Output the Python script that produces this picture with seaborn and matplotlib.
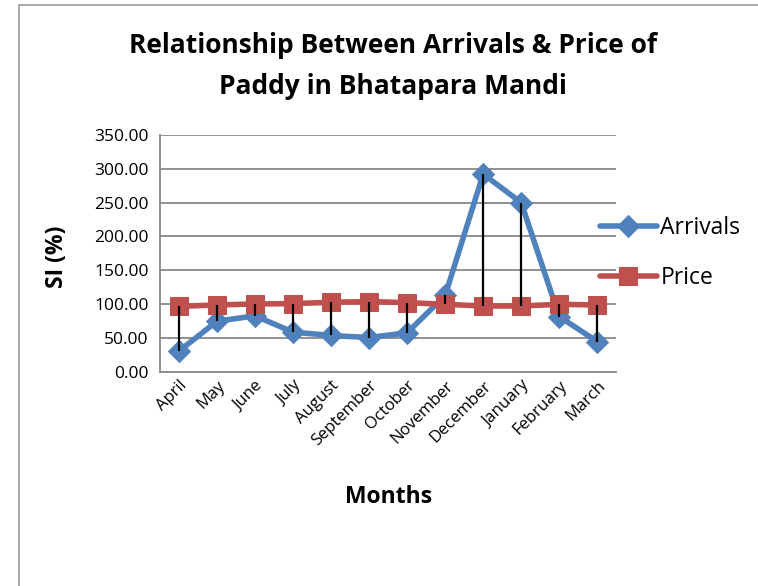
import numpy as np
import pandas as pd
import matplotlib
matplotlib.use("Agg")
import matplotlib.pyplot as plt
from matplotlib.patches import Rectangle
import seaborn as sns

# ==========================================================
# Data (seasonal index, %)
# ==========================================================

months = ["April", "May", "June", "July", "August", "September",
          "October", "November", "December", "January", "February", "March"]
arrivals = [31, 75, 83, 59, 54, 51, 58, 113, 292, 250, 82, 45]
price = [97, 99, 100.5, 101, 103, 104, 102.5, 100, 97.5, 97.5, 100, 99]

df = pd.DataFrame({"Month": months, "Arrivals": arrivals, "Price": price})
df["pos"] = np.arange(len(months))

# ==========================================================
# Style
# ==========================================================

sns.set_style("white")
plt.rcParams["font.family"] = ["Open Sans", "DejaVu Sans"]
plt.rcParams["text.color"] = "black"
plt.rcParams["xtick.color"] = "black"
plt.rcParams["ytick.color"] = "black"

blue = "#4F81BD"
red = "#C0504D"
grid_col = "#888888"

fig = plt.figure(figsize=(7.58, 5.86), dpi=100)
ax = fig.add_axes([0.211, 0.365, 0.602, 0.405])

# outer chart border
fig.patches.append(Rectangle((0.025, -0.02), 1.0, 1.0115, transform=fig.transFigure,
                             fill=False, edgecolor="#999999", linewidth=1.2))

# high-low lines
ax.vlines(df["pos"], df[["Arrivals", "Price"]].min(axis=1),
          df[["Arrivals", "Price"]].max(axis=1), color="black", linewidth=1.6, zorder=4)

sns.lineplot(data=df, x="pos", y="Arrivals", ax=ax, color=blue, linewidth=4,
             marker="D", markersize=11, markeredgecolor=blue, label="Arrivals", zorder=3)
sns.lineplot(data=df, x="pos", y="Price", ax=ax, color=red, linewidth=4,
             marker="s", markersize=13, markeredgecolor=red, label="Price", zorder=3)

ax.set_xlim(-0.5, 11.5)
ax.set_ylim(0, 350)
ax.set_yticks(np.arange(0, 351, 50))
ax.set_yticklabels(["{:.2f}".format(v) for v in np.arange(0, 351, 50)], fontsize=12.5)
ax.set_xticks(df["pos"])
ax.set_xticklabels(months, rotation=45, ha="right", rotation_mode="anchor", fontsize=12)
ax.yaxis.grid(True, color=grid_col, linewidth=1.3)
ax.set_axisbelow(True)
ax.tick_params(axis="y", length=5, color=grid_col, labelcolor="black", width=1.2, pad=3)
ax.tick_params(axis="x", length=0, pad=4, labelcolor="black")
for s in ["top", "right"]:
    ax.spines[s].set_visible(False)
for s in ["left", "bottom"]:
    ax.spines[s].set_color(grid_col)
    ax.spines[s].set_linewidth(1.3)

ax.set_xlabel("")
ax.set_ylabel("")

fig.text(0.519, 1 - 66 / 586, "Relationship Between Arrivals & Price of\nPaddy in Bhatapara Mandi",
         ha="center", va="center", fontsize=19, fontweight="bold", linespacing=1.65)
fig.text(0.512, 1 - 497 / 586, "Months", ha="center", va="center",
         fontsize=16.5, fontweight="bold")
fig.text(0.075, 1 - 257 / 586, "SI (%)", ha="center", va="center", rotation=90,
         fontsize=16.5, fontweight="bold")

ax.legend(loc="center left", bbox_to_anchor=(0.776, 1 - 253 / 586),
          bbox_transform=fig.transFigure, frameon=False, borderpad=0,
          fontsize=16.5, handlelength=2.5, handletextpad=0.15, labelspacing=1.1)

fig.savefig("out.png", dpi=100)
